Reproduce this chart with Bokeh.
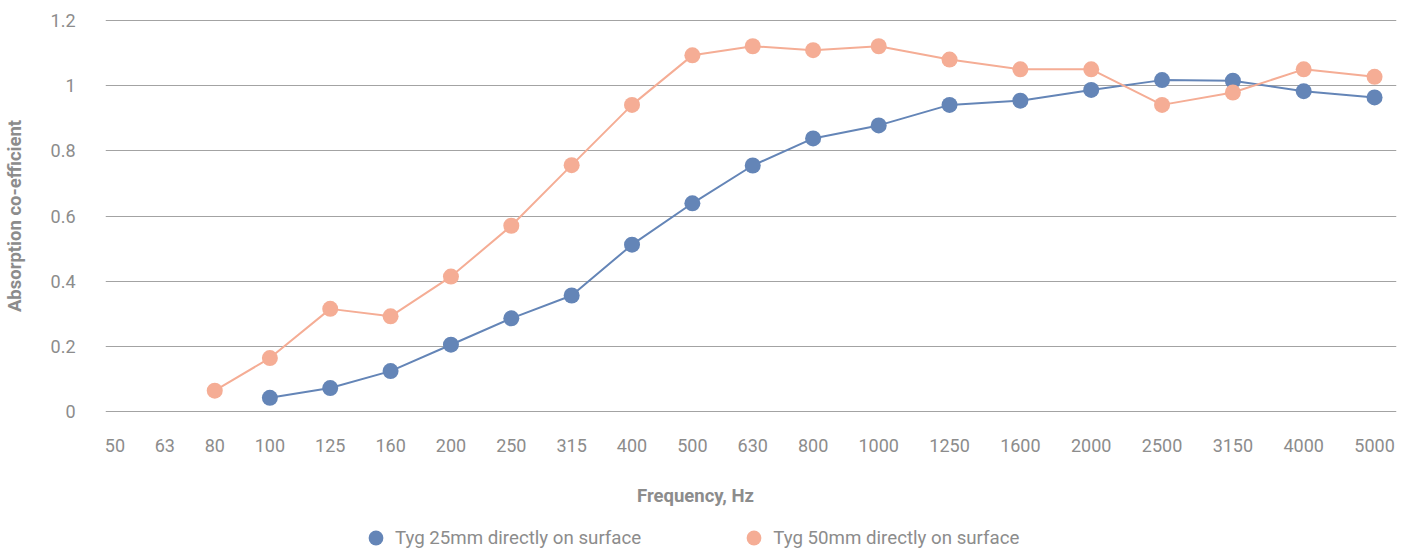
from bokeh.plotting import figure
from bokeh.layouts import column
from bokeh.models import Range1d, FixedTicker, Legend, LegendItem, ColumnDataSource
from bokeh.core.properties import value
from bokeh.embed import file_html
from bokeh.resources import INLINE

# ---- data ----
freq_labels = ["50", "63", "80", "100", "125", "160", "200", "250", "315", "400", "500",
               "630", "800", "1000", "1250", "1600", "2000", "2500", "3150", "4000", "5000"]
tyg25_freqs = ["100", "125", "160", "200", "250", "315", "400", "500", "630", "800", "1000",
               "1250", "1600", "2000", "2500", "3150", "4000", "5000"]
tyg25_vals = [0.042, 0.072, 0.124, 0.205, 0.286, 0.356, 0.512, 0.639, 0.755, 0.838, 0.878,
              0.941, 0.954, 0.987, 1.017, 1.015, 0.983, 0.964]
tyg50_freqs = ["80", "100", "125", "160", "200", "250", "315", "400", "500", "630", "800", "1000",
               "1250", "1600", "2000", "2500", "3150", "4000", "5000"]
tyg50_vals = [0.064, 0.164, 0.315, 0.292, 0.414, 0.570, 0.756, 0.941, 1.093, 1.121, 1.109, 1.121,
              1.080, 1.050, 1.050, 0.941, 0.979, 1.050, 1.027]
y_ticks = [0, 0.2, 0.4, 0.6, 0.8, 1.0, 1.2]
y_tick_labels = ["0", "0.2", "0.4", "0.6", "0.8", "1", "1.2"]
series_names = ["Tyg 25mm directly on surface", "Tyg 50mm directly on surface"]
x_title = "Frequency, Hz"
y_title = "Absorption co-efficient"

BLUE = "#6485b7"
ORANGE = "#f5ad95"
GRID = "#a3a3a3"
TEXT = "#8c8c8c"
FONT = "Roboto"

W = 1411
H_MAIN = 470
H_FOOT = 83
FRAME_L = 105
FRAME_R = 1396

# category slot widths follow label length (as in the source chart layout)
pos = {}
acc = 0.0
for lab in freq_labels:
    w = 10.5 * len(lab) + 29
    pos[lab] = round(acc + w / 2.0, 2)
    acc += w

x_start = pos[freq_labels[0]] - 9.5
x_end = pos[freq_labels[-1]] + 22

p = figure(width=W, height=H_MAIN, output_backend="svg", toolbar_location=None,
           min_border_left=FRAME_L, min_border_right=W - FRAME_R, min_border_top=15,
           min_border_bottom=54,
           x_range=Range1d(x_start, x_end), y_range=Range1d(-0.0153, 1.2153))
p.outline_line_color = None
p.background_fill_color = "white"
p.border_fill_color = "white"

p.xgrid.grid_line_color = None
p.ygrid.grid_line_color = GRID
p.ygrid.grid_line_width = 1

p.yaxis.ticker = FixedTicker(ticks=y_ticks)
p.yaxis.major_label_overrides = {t: l for t, l in zip(y_ticks, y_tick_labels)}
p.xaxis.ticker = FixedTicker(ticks=[pos[l] for l in freq_labels])
p.xaxis.major_label_overrides = {pos[l]: l for l in freq_labels}

for ax in (p.xaxis[0], p.yaxis[0]):
    ax.axis_line_color = None
    ax.major_tick_line_color = None
    ax.minor_tick_line_color = None
    ax.major_tick_out = 0
    ax.major_tick_in = 0
    ax.major_label_text_font = FONT
    ax.major_label_text_font_size = "18px"
    ax.major_label_text_color = TEXT
p.xaxis.major_label_standoff = 22
p.yaxis.major_label_standoff = 30

p.yaxis.axis_label = y_title
p.yaxis.axis_label_text_font = FONT
p.yaxis.axis_label_text_font_style = "bold"
p.yaxis.axis_label_text_font_size = "18.5px"
p.yaxis.axis_label_text_color = TEXT
p.yaxis.axis_label_standoff = 22

src25 = ColumnDataSource(dict(x=[pos[f] for f in tyg25_freqs], y=tyg25_vals))
src50 = ColumnDataSource(dict(x=[pos[f] for f in tyg50_freqs], y=tyg50_vals))

p.line("x", "y", source=src25, line_color=BLUE, line_width=2)
p.line("x", "y", source=src50, line_color=ORANGE, line_width=2)
p.scatter("x", "y", source=src25, size=16, fill_color=BLUE, line_color=BLUE, line_width=0)
p.scatter("x", "y", source=src50, size=16, fill_color=ORANGE, line_color=ORANGE, line_width=0)

# ---- footer: x-axis title and legend, centred on the page as in the source ----
# footer frame uses the same horizontal borders; its x data unit = page pixel
f = figure(width=W, height=H_FOOT, output_backend="svg", toolbar_location=None,
           x_range=Range1d(FRAME_L, FRAME_R), y_range=Range1d(0, H_FOOT),
           min_border_left=FRAME_L, min_border_right=W - FRAME_R,
           min_border_top=0, min_border_bottom=0)
f.outline_line_color = None
f.xaxis.visible = False
f.yaxis.visible = False
f.grid.visible = False

f.text(x=[695], y=[58], text=[x_title], text_align="center", text_baseline="middle",
       text_font=value(FONT), text_font_size="18.5px", text_font_style="bold", text_color=TEXT)

# legend proxies (one point each, kept outside the visible footer area)
proxy = dict(x=[FRAME_L - 500], y=[-500])
g25 = f.scatter(x="x", y="y", source=ColumnDataSource(proxy), size=15,
                fill_color=BLUE, line_color=BLUE, line_width=0)
g50 = f.scatter(x="x", y="y", source=ColumnDataSource(proxy), size=15,
                fill_color=ORANGE, line_color=ORANGE, line_width=0)
legend = Legend(items=[LegendItem(label=series_names[0], renderers=[g25]),
                       LegendItem(label=series_names[1], renderers=[g50])],
                orientation="horizontal", location=(357 - FRAME_L, -3),
                glyph_width=37, glyph_height=37, label_standoff=1, spacing=94,
                padding=0, margin=0, border_line_color=None, background_fill_alpha=0,
                label_text_font=FONT, label_text_font_size="18.7px", label_text_color=TEXT)
f.add_layout(legend, "center")

layout = column(p, f, spacing=0)
open("out.html", "w").write(file_html(layout, INLINE))
